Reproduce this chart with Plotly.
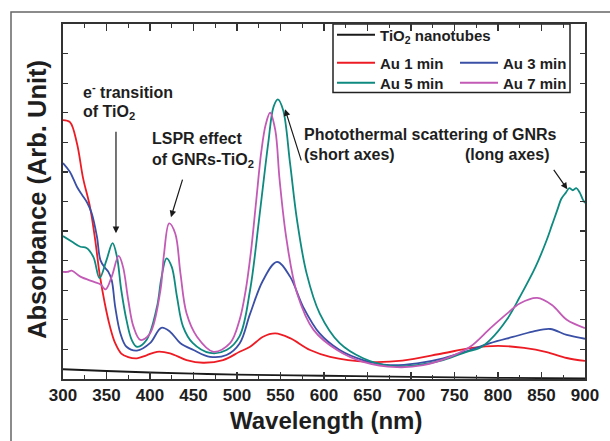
import plotly.graph_objects as go

# ---------------- data ----------------
tio2_x = [300, 350, 400, 450, 500, 600, 700, 800, 900]
tio2_y = [0.33, 0.27, 0.22, 0.18, 0.15, 0.11, 0.07, 0.04, 0.02]

au1_x = [300, 308, 316, 323, 331, 337, 342, 348, 354, 360, 367, 375, 385, 396, 408, 423, 442, 461, 484,
         503, 515, 530, 544, 561, 584, 607, 650, 690, 737, 768, 800, 830, 856, 879, 900]
au1_y = [8.75, 8.68, 7.97, 6.8, 5.82, 4.7, 3.57, 2.56, 1.77, 1.21, 0.86, 0.74, 0.70, 0.80, 0.92, 0.87, 0.64, 0.55, 0.64,
         0.92, 1.09, 1.43, 1.54, 1.38, 0.98, 0.75, 0.58, 0.62, 0.87, 1.04, 1.12, 1.05, 0.91, 0.71, 0.61]

au3_x = [300, 308, 316, 322, 328, 333, 339, 343, 348, 352, 356, 360, 366, 373, 385, 400, 413, 423, 435, 450,
         469, 488, 503, 515, 530, 546, 561, 576, 595, 618, 645, 676, 707, 737, 768, 791, 817, 840, 860, 879, 900]
au3_y = [7.3, 7.0, 6.5, 6.22, 5.95, 5.6, 4.81, 4.02, 3.77, 3.63, 3.34, 2.44, 1.54, 1.09, 0.96, 1.21, 1.73, 1.6, 1.21, 0.98,
         0.75, 0.81, 1.2, 2.2, 3.34, 3.96, 3.46, 2.44, 1.54, 0.98, 0.64, 0.47, 0.53, 0.70, 0.98, 1.21, 1.42, 1.6, 1.69, 1.49, 1.36]

au5_x = [300, 310, 320, 327, 335, 342, 350, 357, 362, 367, 373, 379, 385, 396, 408, 413, 419, 425, 431, 438,
         449, 469, 488, 503, 515, 525, 531, 536, 542, 547, 553, 561, 569, 580, 595, 618, 645, 676, 707, 737,
         764, 779, 791, 810, 825, 843, 856, 862, 868, 873, 878, 882, 886, 890, 894, 897, 900]
au5_y = [4.83, 4.65, 4.47, 4.43, 4.12, 3.41, 4.02, 4.59, 4.13, 3.0, 1.99, 1.32, 1.09, 1.32, 2.44, 3.4, 4.08, 3.79, 2.78, 1.77,
         1.22, 0.88, 0.98, 1.45, 3.0, 5.3, 6.8, 8.0, 9.2, 9.45, 9.09, 7.29, 5.37, 3.57, 2.22, 1.21, 0.70, 0.44, 0.47, 0.64,
         0.92, 1.05, 1.32, 2.0, 2.77, 3.78, 4.7, 5.2, 5.7, 6.1, 6.3, 6.45, 6.38, 6.45, 6.3, 6.1, 5.95]

au7_x = [300, 305, 310, 320, 335, 343, 349, 356, 364, 369, 375, 381, 389, 400, 412, 416, 422, 429, 435, 442,
         454, 473, 492, 503, 510, 516, 522, 528, 533, 538, 544, 549, 557, 569, 588, 615, 645, 684, 714, 745,
         768, 791, 810, 825, 845, 862, 879, 900]
au7_y = [3.62, 3.62, 3.66, 3.46, 3.29, 3.2, 3.03, 3.46, 4.16, 3.79, 2.67, 1.77, 1.32, 1.54, 3.0, 4.2, 5.26, 4.92, 3.57, 2.22,
         1.43, 0.92, 1.21, 2.0, 3.0, 4.3, 6.0, 7.7, 8.6, 9.0, 8.41, 6.72, 4.70, 2.9, 1.66, 0.98, 0.58, 0.40, 0.47, 0.75,
         1.09, 1.71, 2.2, 2.55, 2.74, 2.5, 2.0, 1.72]

x_ticks = [300, 350, 400, 450, 500, 550, 600, 650, 700, 750, 800, 850, 900]

# ---------------- layout geometry (pixels) ----------------
W, H = 610, 441
L, R, T, B = 63, 585, 24, 379


def px_x(p):
    return (p - L) / (R - L)


def px_y(p):
    return (B - p) / (B - T)


FONT = "Liberation Sans"
TXT = "#1e1e1e"

fig = go.Figure()

# (name, x, y, colour, legend id, legend x px, legend row y px)
series = [
    ("TiO<sub>2</sub> nanotubes", tio2_x, tio2_y, "#1a1a1a", "legend", 332, 35),
    ("Au 1 min", au1_x, au1_y, "#ED1C24", "legend2", 332, 63),
    ("Au 3 min", au3_x, au3_y, "#3A4FA6", "legend3", 455, 63),
    ("Au 5 min", au5_x, au5_y, "#0E8A80", "legend4", 332, 83),
    ("Au 7 min", au7_x, au7_y, "#C25AB6", "legend5", 455, 83),
]
legend_font = dict(family=FONT, size=15, color=TXT, weight="bold")
legends = {}
for name, xs, ys, col, lg, lx, ly in series:
    fig.add_trace(go.Scatter(
        x=xs, y=ys, mode="lines", name=name, legend=lg,
        line=dict(color=col, width=1.8, shape="spline", smoothing=1.0),
    ))
    legends[lg] = dict(x=px_x(lx), y=px_y(ly), xanchor="left", yanchor="middle",
                       bgcolor="rgba(0,0,0,0)", borderwidth=0, font=legend_font,
                       itemwidth=38, orientation="v", itemclick=False, itemdoubleclick=False)
fig.update_layout(**legends)

axis_common = dict(
    showline=True, linewidth=2, linecolor="#333333", mirror="allticks",
    showgrid=False, zeroline=False, ticks="inside", tickcolor="#333333",
)
fig.update_xaxes(
    range=[300, 900], tickmode="array", tickvals=x_ticks, ticktext=[str(v) for v in x_ticks],
    ticklen=7, tickwidth=1.5,
    minor=dict(dtick=25, tick0=300, ticks="inside", ticklen=4, tickcolor="#333333", tickwidth=1),
    tickfont=dict(family=FONT, size=17, color=TXT, weight="bold"),
    **axis_common,
)
fig.update_yaxes(
    range=[0, 12], tickmode="linear", tick0=0, dtick=1, ticklen=5, tickwidth=1.2,
    showticklabels=False, **axis_common,
)

# legend frame and outer frame
fig.add_shape(type="rect", xref="paper", yref="paper",
              x0=px_x(333), x1=px_x(570), y0=px_y(92.5), y1=px_y(24),
              line=dict(color="#222222", width=1.5), fillcolor="white", layer="below")
fig.add_shape(type="rect", xref="paper", yref="paper",
              x0=px_x(11), x1=px_x(650), y0=px_y(480), y1=px_y(12),
              line=dict(color="#666666", width=1.5), layer="below")

ann_font = dict(family=FONT, size=16, color=TXT, weight="bold")


def text(t, xp, yp, xanchor="left"):
    fig.add_annotation(text=t, xref="paper", yref="paper", x=px_x(xp), y=px_y(yp),
                       xanchor=xanchor, yanchor="middle", showarrow=False, font=ann_font,
                       align="left")


text("e<sup>-</sup> transition", 81, 91)
text("of TiO<sub>2</sub>", 81, 112)
text("LSPR effect", 150, 138)
text("of GNRs-TiO<sub>2</sub>", 150, 160)
text("Photothermal scattering of GNRs", 302, 134)
text("(short axes)", 302, 155)
text("(long axes)", 551, 155, xanchor="right")


def arrow(hx, hy, tx, ty):
    fig.add_annotation(x=hx, y=hy, ax=tx, ay=ty, xref="x", yref="y", axref="x", ayref="y",
                       text="", showarrow=True, arrowhead=2, arrowsize=1.1, arrowwidth=1.2,
                       arrowcolor="#1a1a1a")


arrow(360.9, 4.93, 360.9, 8.41)
arrow(424.1, 5.47, 437.9, 6.79)
arrow(555.2, 9.12, 574.4, 7.34)
arrow(879.7, 6.41, 862.9, 7.12)

# axis titles
fig.add_annotation(text="Wavelength (nm)", xref="paper", yref="paper", x=px_x(326), y=px_y(420),
                   xanchor="center", yanchor="middle", showarrow=False,
                   font=dict(family=FONT, size=24, color=TXT, weight="bold"))
fig.add_annotation(text="Absorbance (Arb. Unit)", xref="paper", yref="paper", x=px_x(37), y=px_y(200),
                   xanchor="center", yanchor="middle", showarrow=False, textangle=-90,
                   font=dict(family=FONT, size=25.5, color=TXT, weight="bold"))

fig.update_layout(
    width=W, height=H, autosize=False,
    margin=dict(l=L, r=W - R, t=T, b=H - B, pad=0),
    paper_bgcolor="white", plot_bgcolor="rgba(0,0,0,0)",
    showlegend=True,
)

fig.write_html("out.html", config={"displayModeBar": False, "staticPlot": True},
               post_script="document.body.style.margin='0px';document.body.style.overflow='hidden';")
